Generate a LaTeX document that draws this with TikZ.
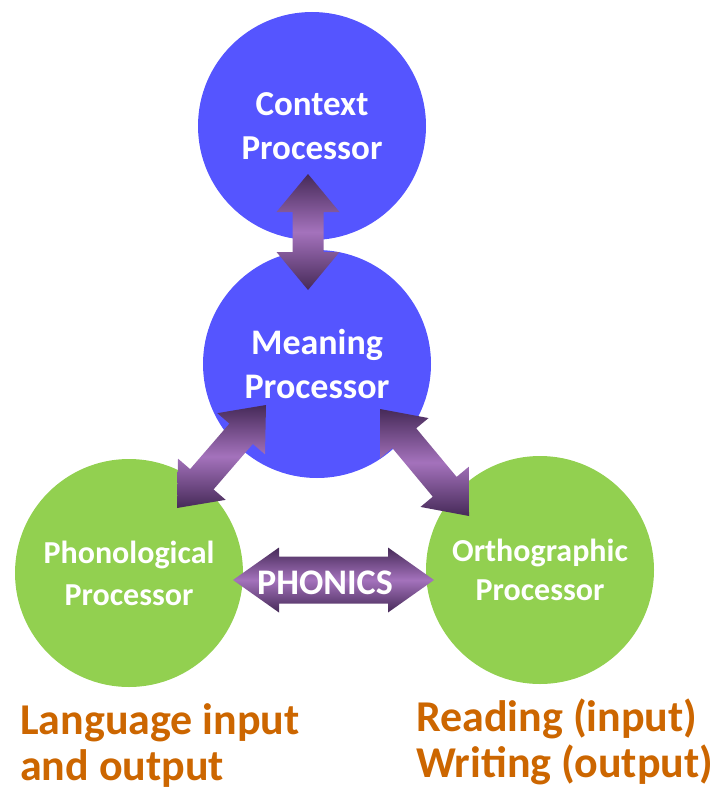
\documentclass[tikz,border=0pt]{standalone}
\usepackage{fontspec}
\setmainfont{Carlito}
\usetikzlibrary{calc}
\definecolor{procblue}{RGB}{85,85,255}
\definecolor{procgreen}{RGB}{146,208,80}
\definecolor{arrlight}{RGB}{164,114,188}
\definecolor{arrdark}{RGB}{70,42,88}
\definecolor{labelorange}{RGB}{204,102,0}

% double arrow from tip #1 to tip #2: half shaft #3, half head #4, head length #5
\newcommand{\biarrow}[5]{%
  \coordinate (ba) at ($(#1)!#5!(#2)$);
  \coordinate (bb) at ($(#2)!#5!(#1)$);
  \shade[arrowshade] (#1) -- ($(ba)!#4!90:(#2)$) -- ($(ba)!#3!90:(#2)$)
    -- ($(bb)!#3!-90:(#1)$) -- ($(bb)!#4!-90:(#1)$) -- (#2)
    -- ($(bb)!#4!90:(#1)$) -- ($(bb)!#3!90:(#1)$)
    -- ($(ba)!#3!-90:(#2)$) -- ($(ba)!#4!-90:(#2)$) -- cycle;}

\begin{document}
\begin{tikzpicture}[x=1pt,y=-1pt]

\tikzstyle{circ}=[circle, minimum size=228pt, inner sep=0pt, text=white, align=center]
\tikzstyle{arrowshade}=[top color=arrdark, bottom color=arrdark, middle color=arrlight]
\tikzstyle{caption}=[text=labelorange, font=\bfseries\fontsize{44}{46}\selectfont, align=left, anchor=base west, inner sep=0pt]

\useasboundingbox (0,0) rectangle (716,792);

\node (ctx) [circ, fill=procblue, font=\bfseries\fontsize{35}{44}\selectfont] at (312,126) {Context\\Processor};
\node (mean) [circ, fill=procblue, font=\bfseries\fontsize{36}{44}\selectfont] at (317,364) {Meaning\\Processor};
\node (phon) [circ, fill=procgreen, font=\bfseries\fontsize{32}{42}\selectfont] at (129,573) {Phonological\\Processor};
\node (orth) [circ, fill=procgreen, font=\bfseries\fontsize{32}{39}\selectfont] at (540,570) {Orthographic\\Processor};

\coordinate (ctxtip) at (308,174);
\coordinate (meantop) at (308,290);
\coordinate (meanleft) at (266,405);
\coordinate (phontip) at (177,508);
\coordinate (meanright) at (380,409);
\coordinate (orthtip) at (469,516);
\coordinate (phonright) at (233,580);
\coordinate (orthleft) at (434,580);

\biarrow{ctxtip}{meantop}{15.5pt}{31.5pt}{38pt}
\biarrow{meanleft}{phontip}{15.5pt}{31.5pt}{38pt}
\biarrow{meanright}{orthtip}{15.5pt}{31.5pt}{38pt}
\biarrow{phonright}{orthleft}{23.5pt}{32.5pt}{46pt}
\node (phonics) [text=white, font=\bfseries\fontsize{36}{40}\selectfont] at (325,583) {PHONICS};

\node (lang) [caption] at (20,780) {Language input\\and output};
\node (read) [caption] at (416,777) {Reading (input)\\Writing (output)};
\end{tikzpicture}
\end{document}
